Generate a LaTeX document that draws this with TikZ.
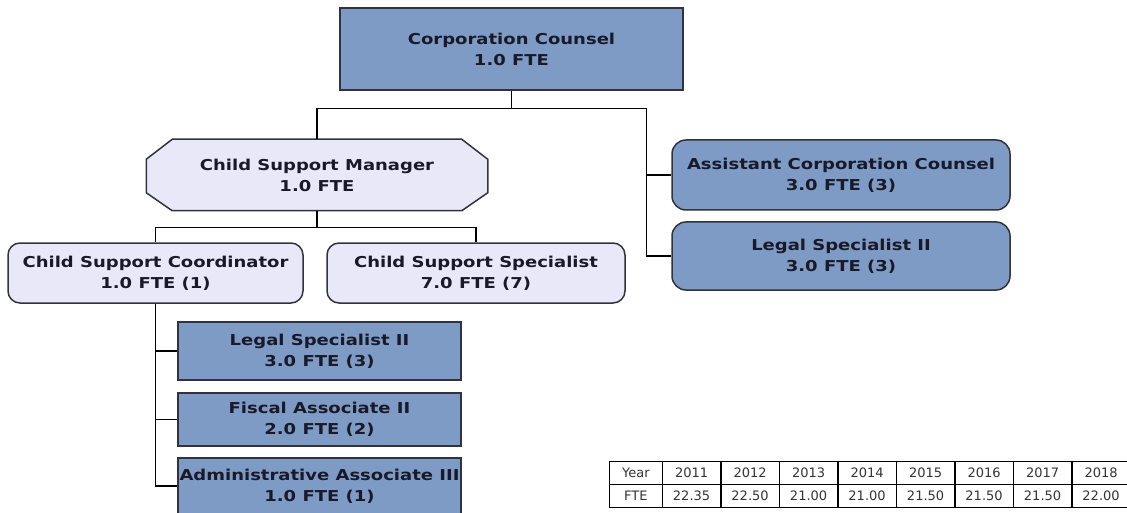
\documentclass[tikz,border=0pt]{standalone}
\usepackage{fontspec}
\usepackage{xcolor}
\usepackage{tikz}
\usetikzlibrary{matrix,shapes,arrows,backgrounds}
\newfontfamily\orgfont[FakeStretch=1.2]{DejaVu Sans}
\newfontfamily\tblfont{DejaVu Sans}
\definecolor{deskblue}{RGB}{125,155,197}
\definecolor{desklav}{RGB}{232,232,248}
\definecolor{deskline}{RGB}{50,50,60}
\definecolor{desktext}{RGB}{25,25,40}
\tikzset{
   post/.style={draw=deskline, line width=1.5pt, text=desktext, align=center, inner sep=0pt,
                font={\orgfont\bfseries\fontsize{15}{21}\selectfont}},
   bluebox/.style={post, fill=deskblue},
   lavbox/.style={post, fill=desklav}
}
\tikzstyle{link} = [draw=black, line width=1.3pt]
\tikzstyle{cell} = [draw=black, line width=1.6pt, minimum height=23pt, minimum width=58.5pt, inner sep=0pt,
                    text=black!80, font={\tblfont\fontsize{13}{15}\selectfont}]

\begin{document}
\begin{tikzpicture}[x=1pt,y=1pt]
  \useasboundingbox (0,0) rectangle (1127,-513);
  \clip (0,0) rectangle (1127,-513);

  \node[bluebox, minimum width=343pt, minimum height=82pt] (cc) at (511.5,-49)
      {Corporation Counsel\\1.0 FTE};

  \node[post, draw=none, minimum width=340pt, minimum height=70pt] (mgr) at (317,-175)
      {Child Support Manager\\1.0 FTE};
  \node[lavbox, rounded corners=12pt, minimum width=295pt, minimum height=60pt] (csc) at (155.5,-273)
      {Child Support Coordinator\\1.0 FTE (1)};
  \node[lavbox, rounded corners=12pt, minimum width=298pt, minimum height=60pt] (css) at (476,-273)
      {Child Support Specialist\\7.0 FTE (7)};

  \node[bluebox, rounded corners=14pt, minimum width=338pt, minimum height=70pt] (acc) at (841,-175)
      {Assistant Corporation Counsel\\3.0 FTE (3)};
  \node[bluebox, rounded corners=14pt, minimum width=338pt, minimum height=68pt] (lsr) at (841,-256)
      {Legal Specialist II\\3.0 FTE (3)};

  \node[bluebox, minimum width=283pt, minimum height=58pt] (ls2) at (319.5,-351)
      {Legal Specialist II\\3.0 FTE (3)};
  \node[bluebox, minimum width=283pt, minimum height=53pt] (fa2) at (319.5,-419.5)
      {Fiscal Associate II\\2.0 FTE (2)};
  \node[bluebox, minimum width=283pt, minimum height=56pt] (adm) at (319.5,-486)
      {Administrative Associate III\\1.0 FTE (1)};

  % octagon behind the manager
  \begin{scope}[on background layer]
    \filldraw[draw=deskline, fill=desklav, line width=1.5pt]
      ([xshift=26pt]mgr.north west) -- ([xshift=-26pt]mgr.north east)
      -- ([yshift=-20pt]mgr.north east) -- ([yshift=18pt]mgr.south east)
      -- ([xshift=-26pt]mgr.south east) -- ([xshift=26pt]mgr.south west)
      -- ([yshift=18pt]mgr.south west) -- ([yshift=-20pt]mgr.north west) -- cycle;
  \end{scope}

  % connectors
  \draw[link] (cc.south) -- ++(0,-18) -| (mgr.north);
  \draw[link] (cc.south) -- ++(0,-18) -| ([xshift=-25pt]lsr.west) -- (lsr.west);
  \draw[link] ([xshift=-25pt]acc.west) -- (acc.west);
  \draw[link] (mgr.south) -- ++(0,-17) -| (csc.north);
  \draw[link] (mgr.south) -- ++(0,-17) -| (css.north);
  \draw[link] (csc.south) |- (adm.west);
  \draw[link] (csc.south |- ls2.west) -- (ls2.west);
  \draw[link] (csc.south |- fa2.west) -- (fa2.west);

  % FTE table
  \matrix (fte) [matrix of nodes, anchor=north west, nodes={cell},
                 column sep=-1.6pt, row sep=-1.6pt,
                 column 1/.style={nodes={minimum width=53pt}}] at (605,-457) {
    Year & 2011 & 2012 & 2013 & 2014 & 2015 & 2016 & 2017 & 2018 \\
    FTE & 22.35 & 22.50 & 21.00 & 21.00 & 21.50 & 21.50 & 21.50 & 22.00 \\
  };
\end{tikzpicture}
\end{document}
